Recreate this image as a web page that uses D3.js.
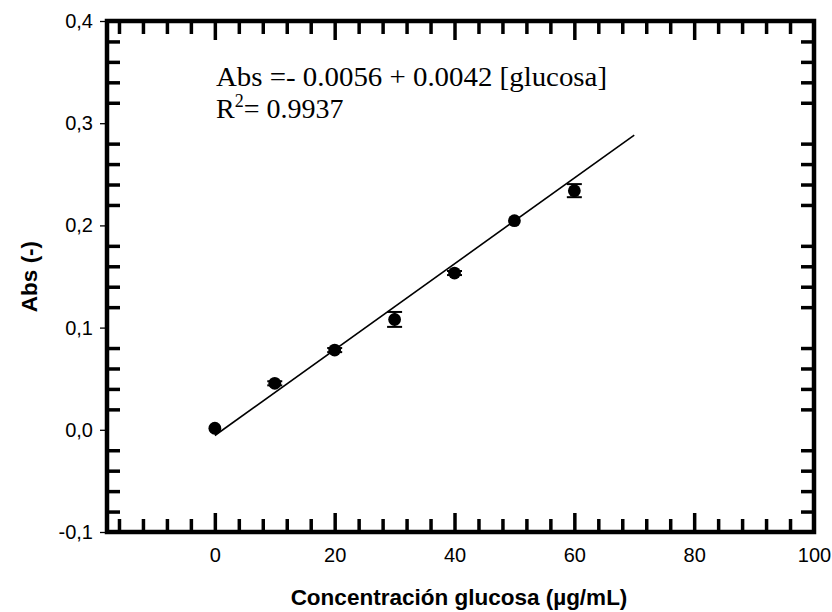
<!DOCTYPE html>
<html>
<head>
<meta charset="utf-8">
<script src="https://cdn.jsdelivr.net/npm/d3@7"></script>
<style>
  html, body { margin: 0; padding: 0; background: #fff; }
  svg { display: block; }
</style>
</head>
<body>
<svg id="chart" width="832" height="612"></svg>
<script>
// Glucose calibration: absorbance vs concentration
const concentration = [0, 10, 20, 30, 40, 50, 60];          // µg/mL
const absMean       = [0.0015, 0.0455, 0.078, 0.108, 0.1534, 0.2046, 0.234];
const absErr        = [0, 0.002, 0.002, 0.0073, 0.002, 0, 0.0064];

// Linear fit: Abs = a + b [glucosa]
const fitIntercept = -0.0056;
const fitSlope     = 0.0042;
const fitRange     = [0, 70];

const xDomain = [-18, 100];
const yDomain = [-0.1, 0.4];
const xMajorTicks = [0, 20, 40, 60, 80, 100];
const yMajorTicks = [-0.1, 0, 0.1, 0.2, 0.3, 0.4];

const svg = d3.select("#chart");
const frame = { left: 107, right: 814, top: 21, bottom: 532 };

const x = d3.scaleLinear().domain(xDomain).range([frame.left, frame.right]);
const y = d3.scaleLinear().domain(yDomain).range([frame.bottom, frame.top]);

// minor tick positions (every 4 on x, every 0.02 on y), skipping majors on y
const xMinor = d3.range(-16, 100, 4).filter(v => v % 20 !== 0);
const xMajorInner = [0, 20, 40, 60, 80];
const yMinor = d3.range(-0.1, 0.4001, 0.02)
  .map(v => Math.round(v * 100) / 100)
  .filter(v => Math.abs(Math.round(v * 10) / 10 - v) > 1e-6);

const fmtComma = d => d.toFixed(1).replace(".", ",");

function styleTicks(g, width) {
  g.select(".domain").remove();
  g.selectAll(".tick line").attr("stroke", "#000").attr("stroke-width", width);
  g.selectAll(".tick text").remove();
}

// bottom: inward ticks
svg.append("g").attr("transform", `translate(0,${frame.bottom})`)
  .call(d3.axisBottom(x).tickValues(xMinor).tickSize(-13))
  .call(g => styleTicks(g, 3.5));
svg.append("g").attr("transform", `translate(0,${frame.bottom})`)
  .call(d3.axisBottom(x).tickValues(xMajorInner).tickSize(-19))
  .call(g => styleTicks(g, 3.5));
// top: inward ticks
svg.append("g").attr("transform", `translate(0,${frame.top})`)
  .call(d3.axisTop(x).tickValues(xMinor).tickSize(-13))
  .call(g => styleTicks(g, 3.5));
svg.append("g").attr("transform", `translate(0,${frame.top})`)
  .call(d3.axisTop(x).tickValues(xMajorInner).tickSize(-19))
  .call(g => styleTicks(g, 3.5));
// left and right: inward minor ticks
svg.append("g").attr("transform", `translate(${frame.left},0)`)
  .call(d3.axisLeft(y).tickValues(yMinor).tickSize(-13))
  .call(g => styleTicks(g, 3.5));
svg.append("g").attr("transform", `translate(${frame.right},0)`)
  .call(d3.axisRight(y).tickValues(yMinor).tickSize(-13))
  .call(g => styleTicks(g, 3.5));

// left major ticks (outward) with labels
const yAxis = svg.append("g").attr("transform", `translate(${frame.left},0)`)
  .call(d3.axisLeft(y).tickValues(yMajorTicks).tickSize(7).tickPadding(7).tickFormat(fmtComma));
yAxis.select(".domain").remove();
yAxis.selectAll(".tick line").attr("stroke", "#000").attr("stroke-width", 1.3);
yAxis.selectAll(".tick text")
  .attr("fill", "#000")
  .style("font-family", "Arial, 'Liberation Sans', sans-serif")
  .style("font-size", "20px");

// bottom labels
const xAxis = svg.append("g").attr("transform", `translate(0,${frame.bottom})`)
  .call(d3.axisBottom(x).tickValues(xMajorTicks).tickSize(0).tickPadding(16));
xAxis.select(".domain").remove();
xAxis.selectAll(".tick text")
  .attr("fill", "#000")
  .style("font-family", "Arial, 'Liberation Sans', sans-serif")
  .style("font-size", "20px");

// frame
svg.append("rect")
  .attr("x", frame.left).attr("y", frame.top)
  .attr("width", frame.right - frame.left)
  .attr("height", frame.bottom - frame.top)
  .attr("fill", "none").attr("stroke", "#000").attr("stroke-width", 4.5);

// regression line
svg.append("line")
  .attr("x1", x(fitRange[0])).attr("y1", y(fitIntercept + fitSlope * fitRange[0]))
  .attr("x2", x(fitRange[1])).attr("y2", y(fitIntercept + fitSlope * fitRange[1]))
  .attr("stroke", "#000").attr("stroke-width", 1.6);

const pts = concentration.map((c, i) => ({ c, m: absMean[i], e: absErr[i] }));

// error bars
const eb = svg.append("g").attr("stroke", "#000").attr("stroke-width", 2);
pts.filter(p => p.e > 0).forEach(p => {
  eb.append("line").attr("x1", x(p.c)).attr("x2", x(p.c)).attr("y1", y(p.m - p.e)).attr("y2", y(p.m + p.e));
  [p.m - p.e, p.m + p.e].forEach(v => {
    eb.append("line").attr("x1", x(p.c) - 7.5).attr("x2", x(p.c) + 7.5).attr("y1", y(v)).attr("y2", y(v));
  });
});

// markers
svg.append("g").selectAll("circle").data(pts).join("circle")
  .attr("cx", d => x(d.c)).attr("cy", d => y(d.m)).attr("r", 6.4).attr("fill", "#000");

// fit equation
const eq = svg.append("g")
  .style("font-family", "'Times New Roman', 'Liberation Serif', serif")
  .style("font-size", "28px").attr("fill", "#000");
eq.append("text").attr("x", 216).attr("y", 86)
  .attr("textLength", 391).attr("lengthAdjust", "spacingAndGlyphs")
  .text(`Abs =- ${Math.abs(fitIntercept).toFixed(4)} + ${fitSlope.toFixed(4)} [glucosa]`);
const r2 = eq.append("text").attr("x", 216).attr("y", 118);
r2.append("tspan").text("R");
r2.append("tspan").attr("dy", -11).style("font-size", "18px").text("2");
r2.append("tspan").attr("dy", 11).text("= 0.9937");

// axis titles
svg.append("text")
  .attr("transform", `translate(29,${(frame.top + frame.bottom) / 2}) rotate(-90)`)
  .attr("text-anchor", "middle").attr("dy", "0.35em")
  .style("font-family", "Arial, 'Liberation Sans', sans-serif")
  .style("font-weight", "bold").style("font-size", "22.5px")
  .text("Abs (-)");
svg.append("text")
  .attr("x", 459).attr("y", 605)
  .attr("text-anchor", "middle")
  .style("font-family", "Arial, 'Liberation Sans', sans-serif")
  .style("font-weight", "bold").style("font-size", "22.5px")
  .text("Concentración glucosa (µg/mL)");
</script>
</body>
</html>
